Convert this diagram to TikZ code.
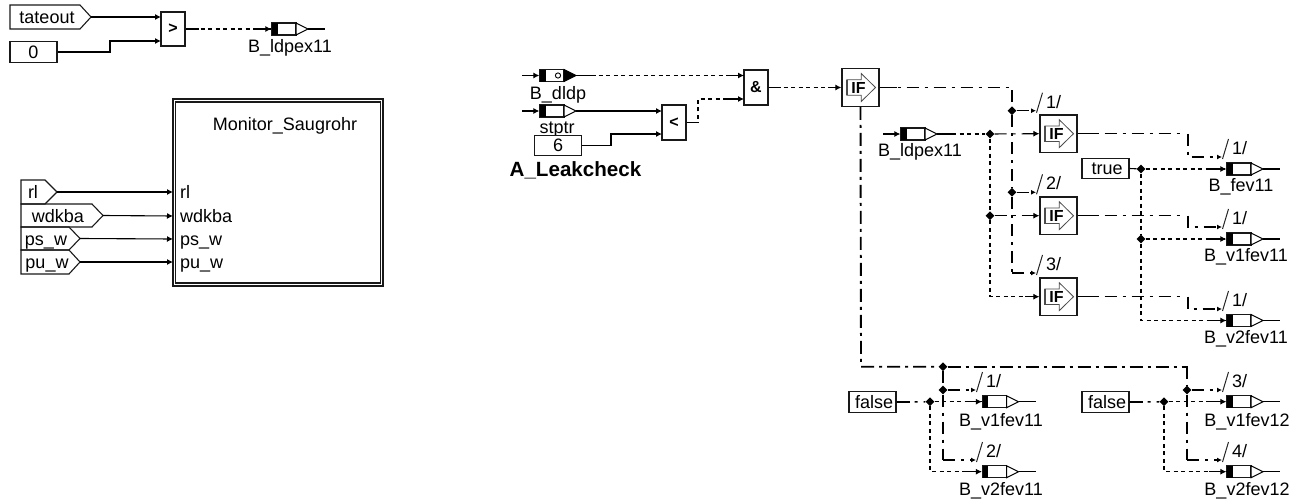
\documentclass[tikz,border=0pt]{standalone}
\usepackage{fontspec}
\setmainfont{Liberation Sans}
\usetikzlibrary{arrows.meta,shapes.geometric}
\newcommand{\tx}{\fontsize{18}{20}\selectfont}
\newcommand{\txb}{\fontsize{16}{20}\selectfont\bfseries}
\tikzset{
 wire/.style={line width=1.1pt,draw=black},
 tipped/.style={-{Latex[length=6pt,width=6pt]}},
 arr/.style={wire,tipped},
 dsh/.style={wire,dash pattern=on 4pt off 3.5pt},
 dd/.style={wire,dash pattern=on 12pt off 6pt on 3pt off 6pt},
 brn/.style={dd,-{Latex[length=5pt,width=5pt]}},
 ddthick/.style={line width=1.9pt,draw=black,dash pattern=on 13pt off 5pt on 3pt off 5pt},
 boxed/.style={draw=black!90,line width=1.2pt,fill=white,inner sep=0pt,align=center},
 txt/.style={inner sep=0pt,font=\tx},
 sbox/.style={boxed,minimum width=24pt,minimum height=12pt},
 opbox/.style={boxed,font=\txb,minimum width=24pt,minimum height=35pt},
 ifbox/.style={boxed,font=\txb,minimum width=37pt,minimum height=37.5pt},
 const/.style={boxed,font=\tx,minimum width=47pt,minimum height=20.5pt},
 jn/.style={diamond,fill=black,inner sep=0pt,minimum width=9pt,minimum height=9pt},
}
% [triangle fill]{name}{x}{y}{label cx}{label base}{label}
\newcommand{\sblock}[7][white]{%
 \node[sbox] (#2) at ({#3+12},{#4}) {};
 \fill[black] ({#3},{#4-6}) rectangle ({#3+5.5},{#4+6});
 \draw[line width=1pt,fill=#1] ({#3+24},{#4-6}) -- ({#3+36},{#4}) -- ({#3+24},{#4+6}) -- cycle;
 \coordinate (#2-o) at ({#3+36},{#4});
 \node[txt,anchor=base] (#2-l) at (#5,#6) {#7};
}
\newcommand{\stail}[1]{\draw[wire] (#1-o) -- ++(17,0);}
\newcommand{\sfree}[1]{\draw[arr] (#1.west) ++(-17,0) -- (#1.west);}
% {name}{cx}{cy}
\newcommand{\ifblock}[3]{%
 \node[ifbox] (#1) at (#2,#3) {\hspace*{-4pt}IF};
 \draw[line width=.8pt,draw=black!70] ({#2-13.7},{#3-7.8}) -- ({#2+.7},{#3-7.8}) -- ({#2+.7},{#3-14}) -- ({#2+15},{#3}) -- ({#2+.7},{#3+14}) -- ({#2+.7},{#3+7.8}) -- ({#2-13.7},{#3+7.8}) -- cycle;
 \draw[line width=1.6pt,draw=black!70] ({#2-13.7},{#3-7.8}) -- ({#2-13.7},{#3+7.8});
}
% {name}{x1}{ytop}{xflat}{xtip}{ybot}{text cx}{text base}{text}
\newcommand{\tagbox}[8]{%
 \draw[line width=1.1pt,draw=black!90] (#2,#3) -- (#4,#3) -- (#5,{(#3+#6)/2}) -- (#4,#6) -- (#2,#6) -- cycle;
 \coordinate (#1-o) at (#5,{(#3+#6)/2});
 \node[txt,anchor=base] (#1) at (#7,#8)
}
% {name}{x}{y}{text}
\newcommand{\busmark}[4]{%
 \coordinate (#1) at (#2,#3);
 \draw[line width=1pt,draw=black!85] ({#2+.5},{#3+2}) -- ({#2+6.5},{#3-18});
 \node[txt,anchor=base west] (#1-t) at ({#2+10},{#3-2.5}) {#4};
}
\newcommand{\outstub}[2]{\draw[wire] (#1) -- ++(#2,0);}
\newcommand{\instub}[2]{\draw[arr] (#1) ++(-#2,0) -- (#1);}
\begin{document}
\begin{tikzpicture}[x=1pt,y=-1pt]
\useasboundingbox (0,0) rectangle (1300,503);
%---- top left
\tagbox{tate}{10}{5}{80}{91}{29}{47}{24}{tateout};
\node[const] (c0) at (33.5,52) {0};
\node[opbox,minimum height=34pt] (gt) at (173,29) {>};
\coordinate (gti1) at (161,17);
\coordinate (gti2) at (161,41);
\coordinate (gtb) at (110,41);
\sblock{ldp}{272}{29}{290}{52.5}{B\_ldpex11}
\stail{ldp}
\draw[arr] (tate-o) -- (gti1);
\draw[arr] (c0.east) -| (gtb) -- (gti2);
\draw[dsh] (gt.east) -- (ldp.west);
\outstub{gt.east}{13}
\instub{ldp.west}{17}
%---- Monitor
\node[draw=black!90,line width=1.1pt,minimum width=210pt,minimum height=187pt,inner sep=0pt] (mon) at (278,192.5) {};
\node[draw=black!90,line width=1.6pt,minimum width=205pt,minimum height=181.5pt,inner sep=0pt] (moni) at (278,192.5) {};
\node[txt,anchor=base] (mont) at (285,130) {Monitor\_Saugrohr};
\node[txt,anchor=base west] (prl) at (180,198) {rl};
\node[txt,anchor=base west] (pwd) at (180,222) {wdkba};
\node[txt,anchor=base west] (pps) at (180,245) {ps\_w};
\node[txt,anchor=base west] (ppu) at (180,268.5) {pu\_w};
\coordinate (irl) at (173,192);
\coordinate (iwd) at (173,216);
\coordinate (ips) at (173,239);
\coordinate (ipu) at (173,262);
\tagbox{trl}{21}{180}{45}{57}{204}{33}{198}{rl};
\tagbox{twd}{21}{204}{92}{103}{227}{58}{222}{wdkba};
\tagbox{tps}{21}{227}{69}{80}{250}{46}{245}{ps\_w};
\tagbox{tpu}{21}{250}{69}{80}{274}{47}{268.5}{pu\_w};
\draw[arr] (trl-o) -- (irl);
\draw[arr] (twd-o) -- (iwd);
\draw[arr] (tps-o) -- (ips);
\draw[arr] (tpu-o) -- (ipu);
%---- A_Leakcheck
\sblock[black]{dld}{540}{75.5}{558}{99}{B\_dldp}
\draw[line width=.9pt] (558,75.5) circle (2.6pt);
\sfree{dld}
\sblock{stp}{540}{111}{557}{133}{stptr}
\sfree{stp}
\node[const] (c6) at (558,145.5) {6};
\node[txt,anchor=base,font=\fontsize{20.6}{24}\selectfont\bfseries] (leak) at (575.5,176.7) {A\_Leakcheck};
\node[opbox] (lt) at (674,122.5) {<};
\node[opbox] (amp) at (756,87.5) {\&};
\coordinate (lti1) at (662,111);
\coordinate (lti2) at (662,134);
\coordinate (ltb) at (611,134);
\coordinate (ampi1) at (744,75.5);
\coordinate (ampi2) at (744,99);
\coordinate (ampb) at (698,99);
\draw[arr] (stp-o) -- (lti1);
\draw[arr] (c6.east) -| (ltb) -- (lti2);
\draw[dsh] (dld-o) -- (ampi1);
\outstub{dld-o}{20}
\instub{ampi1}{17}
\draw[dsh] (lt.east) -| (ampb) -- (ampi2);
\outstub{lt.east}{12}
\instub{ampi2}{17}
\ifblock{ifm}{860.5}{87.5}
\draw[dsh] (amp.east) -- (ifm.west);
\outstub{amp.east}{12}
\instub{ifm.west}{13}
%---- IF group
\sblock{ldq}{901}{134}{920}{156.7}{B\_ldpex11}
\sfree{ldq}
\ifblock{if1}{1058.5}{133.7}
\ifblock{if2}{1058.5}{215.7}
\ifblock{if3}{1058.5}{296.7}
\node[jn] (j1) at (1012,110.7) {};
\node[jn] (j2) at (1012,192.3) {};
\node[jn] (ja) at (990,134) {};
\node[jn] (jb) at (990,215.7) {};
\coordinate (c3) at (1012,273);
\coordinate (ctop) at (1012,87.5);
\busmark{b1}{1036}{110.7}{1/}
\busmark{b2}{1036}{192.3}{2/}
\busmark{b3}{1036}{273}{3/}
\draw[dd] (ifm.east) -- (ctop) -- (j1);
\outstub{ifm.east}{17}
\draw[dd] (j1) -- (j2);
\draw[dd] (j2) -- (c3);
\draw[brn] (j1) -- (b1);
\draw[brn] (j2) -- (b2);
\draw[brn] (c3) -- (b3);
\draw[dsh,line width=1.5pt] (ldq-o) -- (ja);
\outstub{ldq-o}{18}
\draw[dd] (ja) -- (if1.west);
\instub{if1.west}{12}
\draw[dsh] (ja) -- (jb);
\draw[dsh] (jb) |- (if3.west);
\draw[dd] (jb) -- (if2.west);
\instub{if2.west}{12}
\instub{if3.west}{14}
%---- right outputs
\node[const] (ctrue) at (1105.5,168.5) {\hspace*{3pt}true};
\node[jn] (jt) at (1141,169) {};
\node[jn] (ju) at (1141,239) {};
\sblock{fev}{1227}{169}{1241}{191.7}{B\_fev11}
\stail{fev}
\sblock{va}{1227}{239}{1246}{261.7}{B\_v1fev11}
\stail{va}
\sblock{vb}{1227}{320.5}{1246}{343}{B\_v2fev11}
\stail{vb}
\busmark{r1}{1222}{157}{1/}
\busmark{r2}{1222}{227}{1/}
\busmark{r3}{1222}{309}{1/}
\coordinate (e1a) at (1182,133.7);
\coordinate (e1b) at (1188,133.7);
\coordinate (e2a) at (1182,215.7);
\coordinate (e2b) at (1188,215.7);
\coordinate (e3a) at (1182,296.7);
\coordinate (e3b) at (1188,296.7);
\draw[dd] (if1.east) -- (e1a);
\draw[brn] (e1b) |- (r1);
\outstub{if1.east}{19}
\draw[dd] (if2.east) -- (e2a);
\draw[brn] (e2b) |- (r2);
\outstub{if2.east}{19}
\draw[dd] (if3.east) -- (e3a);
\draw[brn] (e3b) |- (r3);
\outstub{if3.east}{19}
\draw[wire] (ctrue.east) -- (jt);
\draw[dsh] (jt) -- (fev.west);
\instub{fev.west}{17}
\draw[dsh] (jt) -- (ju);
\draw[dsh] (ju) -- (va.west);
\instub{va.west}{17}
\draw[dsh] (ju) |- (vb.west);
\instub{vb.west}{17}
%---- bottom
\node[const] (cfa) at (872.5,402) {\hspace*{3pt}false};
\node[const] (cfb) at (1105.5,402) {\hspace*{3pt}false};
\node[jn] (jf) at (930,401.7) {};
\node[jn] (jg) at (1164,401.7) {};
\node[jn] (jh) at (943,366.7) {};
\node[jn] (ji) at (943,390) {};
\node[jn] (jk) at (1187,390) {};
\coordinate (tl) at (861,366.7);
\coordinate (tr) at (1187,366.7);
\coordinate (l2) at (943,460);
\coordinate (r2c) at (1187,460);
\busmark{m1}{976}{390}{1/}
\busmark{m2}{976}{460}{2/}
\busmark{m3}{1222}{390}{3/}
\busmark{m4}{1222}{460}{4/}
\sblock{wa}{982.5}{401.7}{1001}{426}{B\_v1fev11}
\stail{wa}
\sblock{wb}{982.5}{471.7}{1001}{495}{B\_v2fev11}
\stail{wb}
\sblock{wc}{1227}{401.7}{1247}{426}{B\_v1fev12}
\stail{wc}
\sblock{wd}{1227}{471.7}{1247}{495}{B\_v2fev12}
\stail{wd}
\draw[ddthick] (ifm.south) -- (tl) -- (jh);
\draw[ddthick] (jh) -- (tr) -- ++(0,6);
\draw[dd] (jh) -- (ji);
\draw[dd] (ji) -- (l2);
\draw[brn] (l2) -- (m2);
\draw[brn] (ji) -- (m1);
\draw[dd] (tr) -- (jk);
\draw[dd] (jk) -- (r2c);
\draw[brn] (r2c) -- (m4);
\draw[brn] (jk) -- (m3);
\draw[dd,line width=1.5pt] (cfa.east) -- (jf);
\outstub{cfa.east}{13}
\draw[dsh] (jf) -- (wa.west);
\instub{wa.west}{17}
\draw[dsh] (jf) |- (wb.west);
\instub{wb.west}{17}
\draw[dd,line width=1.5pt] (cfb.east) -- (jg);
\outstub{cfb.east}{13}
\draw[dsh] (jg) -- (wc.west);
\instub{wc.west}{17}
\draw[dsh] (jg) |- (wd.west);
\instub{wd.west}{17}
\end{tikzpicture}
\end{document}
